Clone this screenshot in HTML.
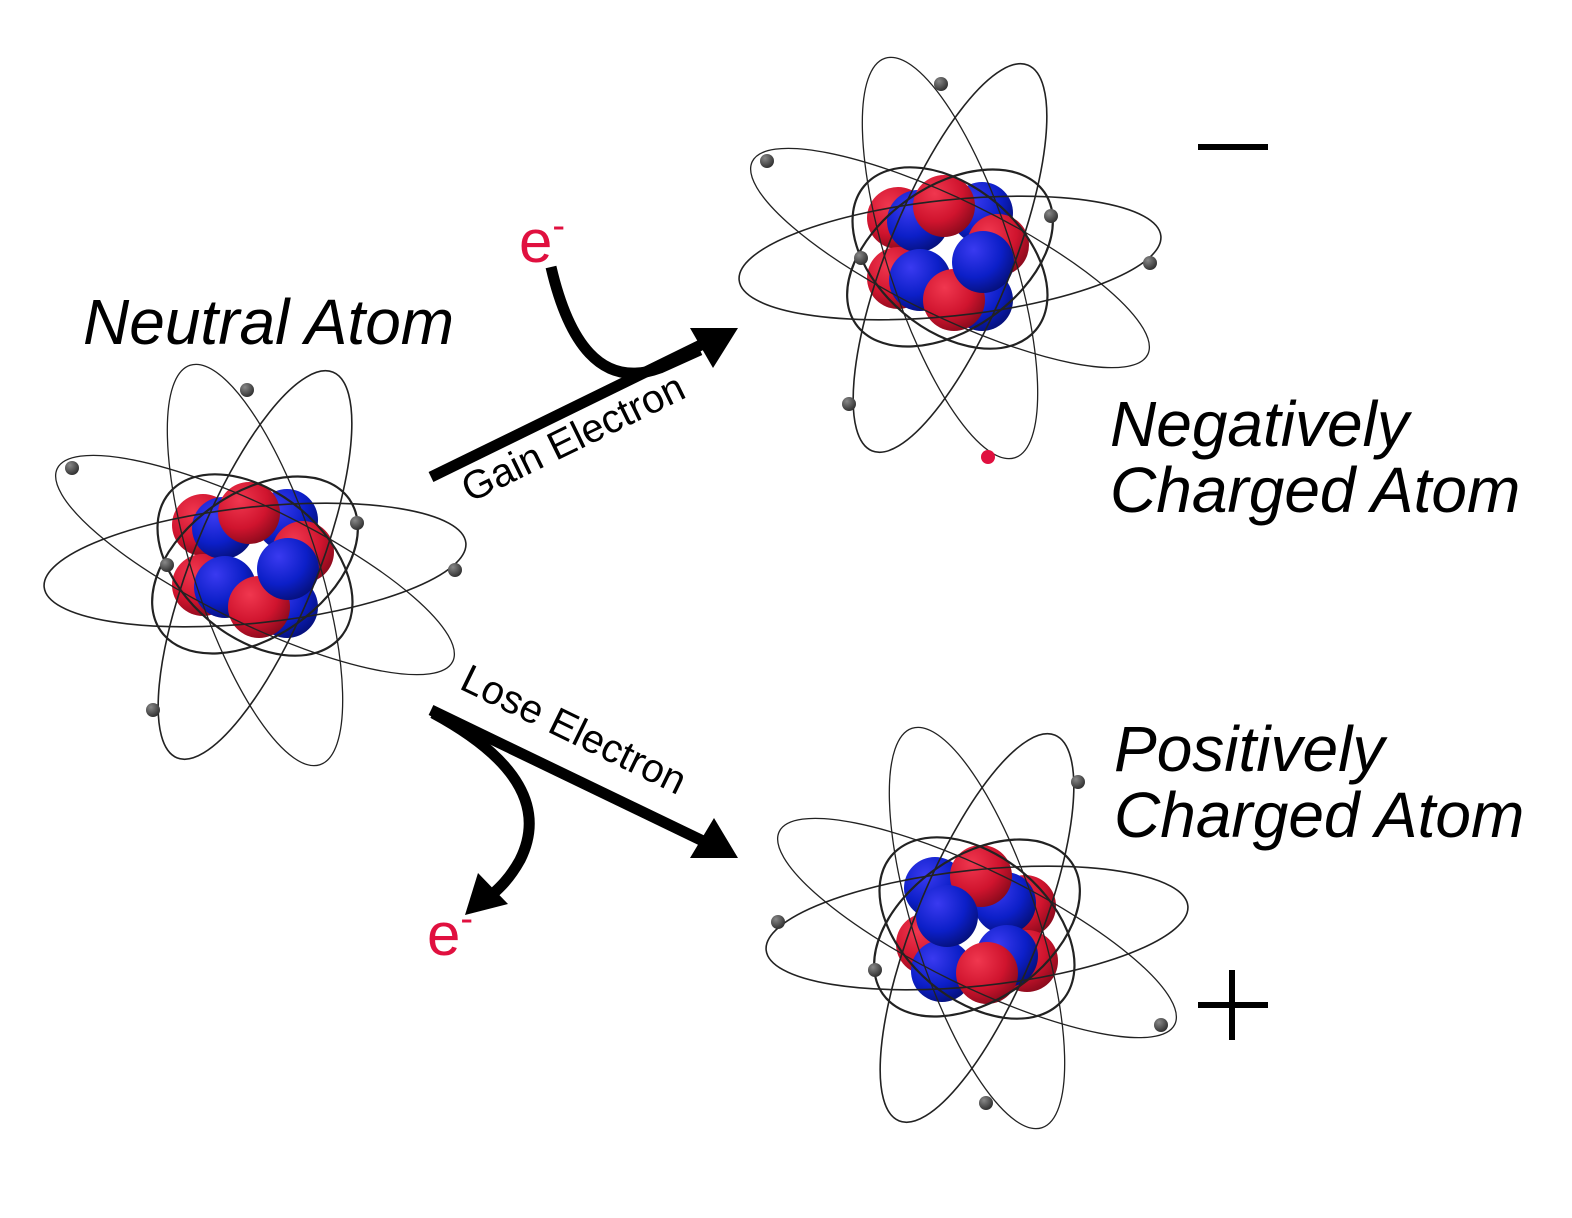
<!DOCTYPE html>
<html><head><meta charset="utf-8"><style>
html,body{margin:0;padding:0;background:#fff;}
svg{display:block;}
</style></head><body>
<svg width="1572" height="1218" viewBox="0 0 1572 1218" xmlns="http://www.w3.org/2000/svg">
<defs>
<radialGradient id="gr" cx="0.35" cy="0.3" r="0.75"><stop offset="0" stop-color="#f0374f"/><stop offset="0.6" stop-color="#d0142e"/><stop offset="1" stop-color="#8a0a1c"/></radialGradient>
<radialGradient id="gb" cx="0.35" cy="0.3" r="0.75"><stop offset="0" stop-color="#3a3af0"/><stop offset="0.6" stop-color="#0c1fc8"/><stop offset="1" stop-color="#05107a"/></radialGradient>
<radialGradient id="ge" cx="0.35" cy="0.3" r="0.7"><stop offset="0" stop-color="#888"/><stop offset="1" stop-color="#333"/></radialGradient>
<g id="orb" fill="none" stroke="#222">
<ellipse cx="0" cy="0" rx="220" ry="58" transform="rotate(26)" stroke-width="1.3"/>
<ellipse cx="0" cy="0" rx="212" ry="58" transform="rotate(-6)" stroke-width="1.6"/>
<ellipse cx="0" cy="0" rx="62" ry="210" transform="rotate(-18)" stroke-width="1.3"/>
<ellipse cx="0" cy="0" rx="62" ry="208" transform="rotate(22)" stroke-width="1.6"/>
<ellipse cx="0" cy="0" rx="115" ry="72" transform="rotate(-35)" stroke-width="2.2"/>
<ellipse cx="0" cy="0" rx="112" ry="72" transform="rotate(40)" stroke-width="2.2"/>
</g>
<g id="nucA">
<circle cx="-52" cy="-40" r="31" fill="url(#gr)"/>
<circle cx="32" cy="-45" r="31" fill="url(#gb)"/>
<circle cx="48" cy="-13" r="31" fill="url(#gr)"/>
<circle cx="-52" cy="20" r="31" fill="url(#gr)"/>
<circle cx="32" cy="42" r="31" fill="url(#gb)"/>
<circle cx="-32" cy="-37" r="31" fill="url(#gb)"/>
<circle cx="-6" cy="-52" r="31" fill="url(#gr)"/>
<circle cx="-30" cy="22" r="31" fill="url(#gb)"/>
<circle cx="4" cy="42" r="31" fill="url(#gr)"/>
<circle cx="33" cy="4" r="31" fill="url(#gb)"/>
</g>
<g id="nucB">
<circle cx="-42" cy="-40" r="31" fill="url(#gb)"/>
<circle cx="48" cy="-22" r="31" fill="url(#gr)"/>
<circle cx="50" cy="33" r="31" fill="url(#gr)"/>
<circle cx="-50" cy="16" r="31" fill="url(#gr)"/>
<circle cx="-35" cy="43" r="31" fill="url(#gb)"/>
<circle cx="28" cy="-25" r="31" fill="url(#gb)"/>
<circle cx="4" cy="-52" r="31" fill="url(#gr)"/>
<circle cx="-30" cy="-12" r="31" fill="url(#gb)"/>
<circle cx="30" cy="28" r="31" fill="url(#gb)"/>
<circle cx="10" cy="45" r="31" fill="url(#gr)"/>
</g>
</defs>

<g transform="translate(255,565)">
<use href="#nucA"/>
<use href="#orb"/>
<g fill="url(#ge)">
<circle cx="-8" cy="-175" r="7"/><circle cx="-183" cy="-97" r="7"/><circle cx="102" cy="-42" r="7"/>
<circle cx="200" cy="5" r="7"/><circle cx="-88" cy="0" r="7"/><circle cx="-102" cy="145" r="7"/>
</g>
</g>

<g transform="translate(950,258)">
<use href="#nucA"/>
<use href="#orb"/>
<g fill="url(#ge)">
<circle cx="-9" cy="-174" r="7"/><circle cx="-183" cy="-97" r="7"/><circle cx="101" cy="-42" r="7"/>
<circle cx="200" cy="5" r="7"/><circle cx="-89" cy="0" r="7"/><circle cx="-101" cy="146" r="7"/>
</g>
<circle cx="38" cy="199" r="7" fill="#e0103f"/>
</g>

<g transform="translate(977,928)">
<use href="#nucB"/>
<use href="#orb"/>
<g fill="url(#ge)">
<circle cx="101" cy="-146" r="7"/><circle cx="-199" cy="-6" r="7"/><circle cx="-102" cy="42" r="7"/>
<circle cx="184" cy="97" r="7"/><circle cx="9" cy="175" r="7"/>
</g>
</g>

<g fill="none" stroke="#000" stroke-width="11" stroke-linecap="butt">
<path d="M431,477 L705,343"/>
<path d="M551,267 C568,340 600,390 660,368 L700,350"/>
<path d="M431,710 L705,842"/>
<path d="M433,713 C520,760 545,810 520,860 C510,878 500,888 488,898"/>
</g>
<polygon points="738,328 690,328 713,368" fill="#000"/>
<polygon points="738,858 714,818 690,858" fill="#000"/>
<polygon points="465,915 508,904 478,873" fill="#000"/>

<g font-family="'Liberation Sans', sans-serif" fill="#000">
<text x="83" y="344" font-size="64" font-style="italic">Neutral Atom</text>
<text x="1110" y="446" font-size="64" font-style="italic">Negatively</text>
<text x="1110" y="512" font-size="64" font-style="italic">Charged Atom</text>
<text x="1114" y="771" font-size="64" font-style="italic">Positively</text>
<text x="1114" y="837" font-size="64" font-style="italic">Charged Atom</text>
<text x="0" y="0" font-size="40" transform="translate(470,503) rotate(-26)">Gain Electron</text>
<text x="0" y="0" font-size="40" transform="translate(458,688) rotate(26)">Lose Electron</text>
<text x="519" y="262" font-size="60" fill="#e0103f">e<tspan font-size="38" dy="-24">-</tspan></text>
<text x="427" y="955" font-size="60" fill="#e0103f">e<tspan font-size="38" dy="-24">-</tspan></text>
</g>
<rect x="1198" y="144" width="70" height="6" fill="#000"/>
<rect x="1198" y="1002" width="70" height="6" fill="#000"/>
<rect x="1229" y="970" width="6" height="70" fill="#000"/>
</svg>
</body></html>
